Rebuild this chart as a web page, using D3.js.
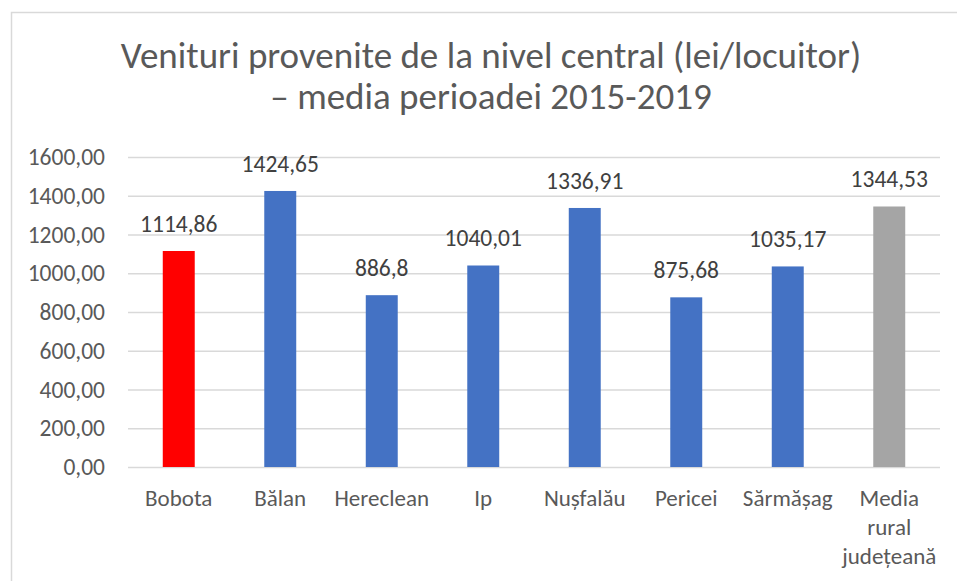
<!DOCTYPE html>
<html>
<head>
<meta charset="utf-8">
<script src="https://cdn.jsdelivr.net/npm/d3@7"></script>
<style>
  body { margin: 0; background: #fff; }
  text { font-family: Carlito, Lato, "Liberation Sans", sans-serif; }
</style>
</head>
<body>
<svg width="957" height="581"></svg>
<script>
var categories = ["Bobota", "Bălan", "Hereclean", "Ip", "Nușfalău", "Pericei", "Sărmășag", "Media rural județeană"];
var values = [1114.86, 1424.65, 886.8, 1040.01, 1336.91, 875.68, 1035.17, 1344.53];
var valueLabels = ["1114,86", "1424,65", "886,8", "1040,01", "1336,91", "875,68", "1035,17", "1344,53"];
var barColors = ["#ff0000", "#4472c4", "#4472c4", "#4472c4", "#4472c4", "#4472c4", "#4472c4", "#a5a5a5"];
var yTicks = [0, 200, 400, 600, 800, 1000, 1200, 1400, 1600];
var titleLines = ["Venituri provenite de la nivel central (lei/locuitor)", "– media perioadei 2015-2019"];

var svg = d3.select("svg");
var plot = { left: 128, right: 940, top: 157, bottom: 467 };

// chart border (extends past the window on right and bottom)
svg.append("rect")
    .attr("x", 11.5).attr("y", 12.5)
    .attr("width", 960).attr("height", 600)
    .attr("fill", "none")
    .attr("stroke", "#d9d9d9")
    .attr("stroke-width", 1.5);

// title
svg.append("g").selectAll("text")
    .data(titleLines).enter()
    .append("text")
    .attr("x", 491)
    .attr("y", function(d, i) { return 68 + i * 41; })
    .attr("text-anchor", "middle")
    .attr("fill", "#595959")
    .style("font-size", "37px")
    .text(function(d) { return d; });

var x = d3.scaleBand()
    .domain(categories)
    .range([plot.left, plot.right])
    .paddingInner(0.685)
    .paddingOuter(0.3425);

var y = d3.scaleLinear()
    .domain([0, 1600])
    .range([plot.bottom, plot.top]);

var fmt = function(d) { return d3.format(".2f")(d).replace(".", ","); };

// gridlines
svg.append("g")
    .attr("transform", "translate(" + plot.left + ",0)")
    .call(d3.axisLeft(y).tickValues(yTicks).tickSize(-(plot.right - plot.left)).tickFormat(""))
    .call(function(g) { g.select(".domain").remove(); })
    .call(function(g) {
      g.selectAll("line").attr("stroke", "#d9d9d9").attr("stroke-width", 1.5);
    });

// y tick labels
svg.append("g")
    .attr("transform", "translate(" + plot.left + ",0)")
    .call(d3.axisLeft(y).tickValues(yTicks).tickSize(0).tickPadding(23).tickFormat(fmt))
    .call(function(g) { g.select(".domain").remove(); })
    .call(function(g) {
      g.selectAll("text")
        .attr("fill", "#595959")
        .style("font-size", "23.5px")
        .style("font-family", "Carlito, Lato, 'Liberation Sans', sans-serif");
    });

// bars
svg.append("g").selectAll("rect")
    .data(values).enter()
    .append("rect")
    .attr("x", function(d, i) { return x(categories[i]); })
    .attr("y", function(d) { return y(d); })
    .attr("width", x.bandwidth())
    .attr("height", function(d) { return y(0) - y(d); })
    .attr("fill", function(d, i) { return barColors[i]; });

// data labels
svg.append("g").selectAll("text")
    .data(values).enter()
    .append("text")
    .attr("x", function(d, i) { return x(categories[i]) + x.bandwidth() / 2; })
    .attr("y", function(d) { return y(d) - 19; })
    .attr("text-anchor", "middle")
    .attr("fill", "#404040")
    .style("font-size", "23.5px")
    .text(function(d, i) { return valueLabels[i]; });

// category labels (wrapped into lines)
var catLines = [["Bobota"], ["Bălan"], ["Hereclean"], ["Ip"], ["Nușfalău"], ["Pericei"], ["Sărmășag"], ["Media", "rural", "județeană"]];
var cat = svg.append("g").selectAll("text")
    .data(categories).enter()
    .append("text")
    .attr("x", function(d) { return x(d) + x.bandwidth() / 2; })
    .attr("y", 506)
    .attr("text-anchor", "middle")
    .attr("fill", "#595959")
    .style("font-size", "23px");

cat.selectAll("tspan")
    .data(function(d, i) { return catLines[i]; }).enter()
    .append("tspan")
    .attr("x", function() { return d3.select(this.parentNode).attr("x"); })
    .attr("dy", function(d, i) { return i === 0 ? 0 : 29; })
    .text(function(d) { return d; });
</script>
</body>
</html>
